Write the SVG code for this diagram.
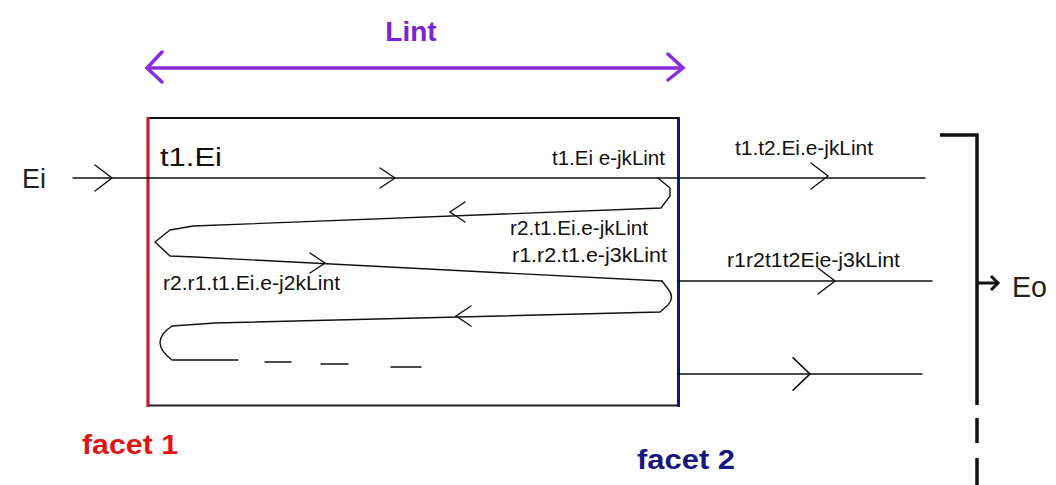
<svg xmlns="http://www.w3.org/2000/svg" xmlns:xlink="http://www.w3.org/1999/xlink" width="1056" height="485" viewBox="0 0 1056 485">
  <style>
    text { font-family: "Liberation Sans", Arial, sans-serif; }
    .lbl { font-size: 20px; fill: #111; }
    .big { font-size: 28px; fill: #222; }
    .ray { fill: none; stroke: #111; stroke-width: 1.4; stroke-linejoin: round; stroke-linecap: round; }
    .chev { fill: none; stroke: #111; stroke-width: 1.4; stroke-linecap: round; stroke-linejoin: miter; }
    .facet-title { font-size: 28px; font-weight: bold; }
  </style>
  <defs>
    <!-- open chevron arrowhead pointing right, tip at origin -->
    <path id="chev" d="M-17,-13 L0,0 L-17,13"/>
    <path id="chevS" d="M-15,-10 L0,0 L-15,10"/>
  </defs>

  <rect width="1056" height="485" fill="#ffffff"/>

  <!-- cavity length dimension -->
  <g id="length-dim">
    <line x1="147" y1="68" x2="683" y2="68" stroke="#8a2be2" stroke-width="3.5"/>
    <path d="M162,52 L147,68 L162,82 M668,54 L683,68 L668,80" fill="none" stroke="#8a2be2" stroke-width="3.5" stroke-linecap="round"/>
    <text x="411" y="41" text-anchor="middle" font-size="28" font-weight="bold" fill="#7a22d6">Lint</text>
  </g>

  <!-- cavity with its two facets -->
  <g id="cavity">
    <line x1="148" y1="118" x2="678" y2="118" stroke="#111" stroke-width="1.8"/>
    <line x1="148" y1="405.5" x2="678" y2="405.5" stroke="#222" stroke-width="2"/>
    <line id="facet1" x1="148" y1="117" x2="148" y2="407" stroke="#c61e2c" stroke-width="3.2"/>
    <line id="facet2" x1="678.5" y1="117" x2="678.5" y2="407" stroke="#141488" stroke-width="3"/>
  </g>

  <g id="facet1-label">
    <text class="facet-title" x="82" y="454" fill="#e01414" textLength="96" lengthAdjust="spacingAndGlyphs">facet 1</text>
  </g>
  <g id="facet2-label">
    <text class="facet-title" x="637" y="469" fill="#17177e" textLength="98" lengthAdjust="spacingAndGlyphs">facet 2</text>
  </g>

  <!-- output collector -->
  <g id="collector">
    <path d="M940,135 L977,135 L977,405" fill="none" stroke="#111" stroke-width="3.5"/>
    <line x1="977" y1="418" x2="977" y2="443" stroke="#111" stroke-width="3.5"/>
    <line x1="977" y1="458" x2="977" y2="485" stroke="#111" stroke-width="3.5"/>
    <line x1="977" y1="283" x2="997" y2="283" stroke="#111" stroke-width="3"/>
    <path d="M991,276 L998,283 L991,290" fill="none" stroke="#111" stroke-width="3"/>
    <text class="big" x="1012" y="297" style="font-size:29px" textLength="35" lengthAdjust="spacingAndGlyphs">Eo</text>
  </g>

  <!-- field rays and their arrowheads -->
  <g id="connectors">
    <!-- input ray crossing the cavity -->
    <line class="ray" x1="73" y1="178" x2="925" y2="178"/>
    <!-- first round trip -->
    <path class="ray" d="M658,178 L670,188 L670,196 L661,208 L193,226 L170,230 L155,242 L170,256 L195,257 L662,281"/>
    <!-- second round trip, fading out -->
    <path class="ray" d="M662,281 L668,289 Q675,297 668,305 L660,312 L215,323 L172,326 Q148,342 172,360 L238,360"/>
    <path class="ray" d="M265,362 L291,362 M321,364 L348,364 M391,367 L421,367"/>
    <!-- transmitted rays -->
    <line class="ray" x1="678" y1="281" x2="932" y2="281"/>
    <line class="ray" x1="678" y1="374" x2="922" y2="374"/>

    <use xlink:href="#chev" class="chev" transform="translate(112,178)"/>
    <use xlink:href="#chevS" class="chev" transform="translate(395,178)"/>
    <use xlink:href="#chev" class="chev" transform="translate(828,176)"/>
    <use xlink:href="#chevS" class="chev" transform="translate(450,212) rotate(180)"/>
    <use xlink:href="#chevS" class="chev" transform="translate(325,263)"/>
    <use xlink:href="#chev" class="chev" transform="translate(835,281)"/>
    <use xlink:href="#chevS" class="chev" transform="translate(456,316) rotate(180)"/>
    <use xlink:href="#chev" class="chev" transform="translate(810,374) scale(1,1.25)"/>
  </g>

  <!-- field labels -->
  <g id="input-label">
    <text class="big" x="22" y="188" textLength="24" lengthAdjust="spacingAndGlyphs">Ei</text>
  </g>
  <g id="ray-labels">
    <text class="lbl" x="160" y="166" style="font-size:26px" textLength="62" lengthAdjust="spacingAndGlyphs">t1.Ei</text>
    <text class="lbl" x="552" y="165" textLength="113" lengthAdjust="spacingAndGlyphs">t1.Ei e-jkLint</text>
    <text class="lbl" x="510" y="235" textLength="138" lengthAdjust="spacingAndGlyphs">r2.t1.Ei.e-jkLint</text>
    <text class="lbl" x="512" y="262" textLength="155" lengthAdjust="spacingAndGlyphs">r1.r2.t1.e-j3kLint</text>
    <text class="lbl" x="163" y="290" textLength="177" lengthAdjust="spacingAndGlyphs">r2.r1.t1.Ei.e-j2kLint</text>
    <text class="lbl" x="735" y="155" textLength="138" lengthAdjust="spacingAndGlyphs">t1.t2.Ei.e-jkLint</text>
    <text class="lbl" x="727" y="267" textLength="173" lengthAdjust="spacingAndGlyphs">r1r2t1t2Eie-j3kLint</text>
  </g>
</svg>
